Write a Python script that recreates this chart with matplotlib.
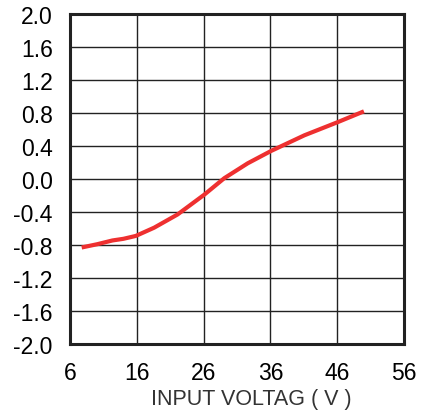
import matplotlib
matplotlib.use("Agg")
import matplotlib.pyplot as plt

voltage = [7.75, 10.1, 12.35, 14.0, 15.85, 18.6, 22.1, 26.1, 29.1, 32.6, 36.1, 41.1, 46.1, 50.0]
offset = [-0.83, -0.79, -0.745, -0.725, -0.69, -0.59, -0.43, -0.19, 0.01, 0.19, 0.34, 0.53, 0.69, 0.82]
xticks = [6, 16, 26, 36, 46, 56]
yticks = [-2.0, -1.6, -1.2, -0.8, -0.4, 0.0, 0.4, 0.8, 1.2, 1.6, 2.0]
xlabel = "INPUT VOLTAG ( V )"

plt.rcParams['font.family'] = ['Liberation Sans', 'DejaVu Sans']

fig = plt.figure(figsize=(4.30, 4.14), dpi=100)
ax = fig.add_axes([70/430, 1-345/414, (404-70)/430, (345-15)/414])

ax.plot(voltage, offset, color='#EE3030', lw=3.0, solid_capstyle='butt', solid_joinstyle='round', zorder=3)

ax.set_xlim(6, 56)
ax.set_ylim(-2.0, 2.0)
ax.set_xticks(xticks)
ax.set_xticklabels([str(t) for t in xticks])
ax.set_yticks(yticks)
ax.set_yticklabels([f"{t:.1f}" for t in yticks])
ax.tick_params(length=0, labelsize=16.5, colors='black')
ax.tick_params(axis='y', pad=12.5)
ax.tick_params(axis='x', pad=12)
ax.grid(True, color='#222222', lw=1.0)
for s in ax.spines.values():
    s.set_linewidth(2.2)
    s.set_color('#222222')
ax.set_axisbelow(True)

fig.text(251/430, 1-400/414, xlabel, ha='center', va='center', fontsize=15.5, color='#333333')

fig.savefig("out.png", dpi=100)
